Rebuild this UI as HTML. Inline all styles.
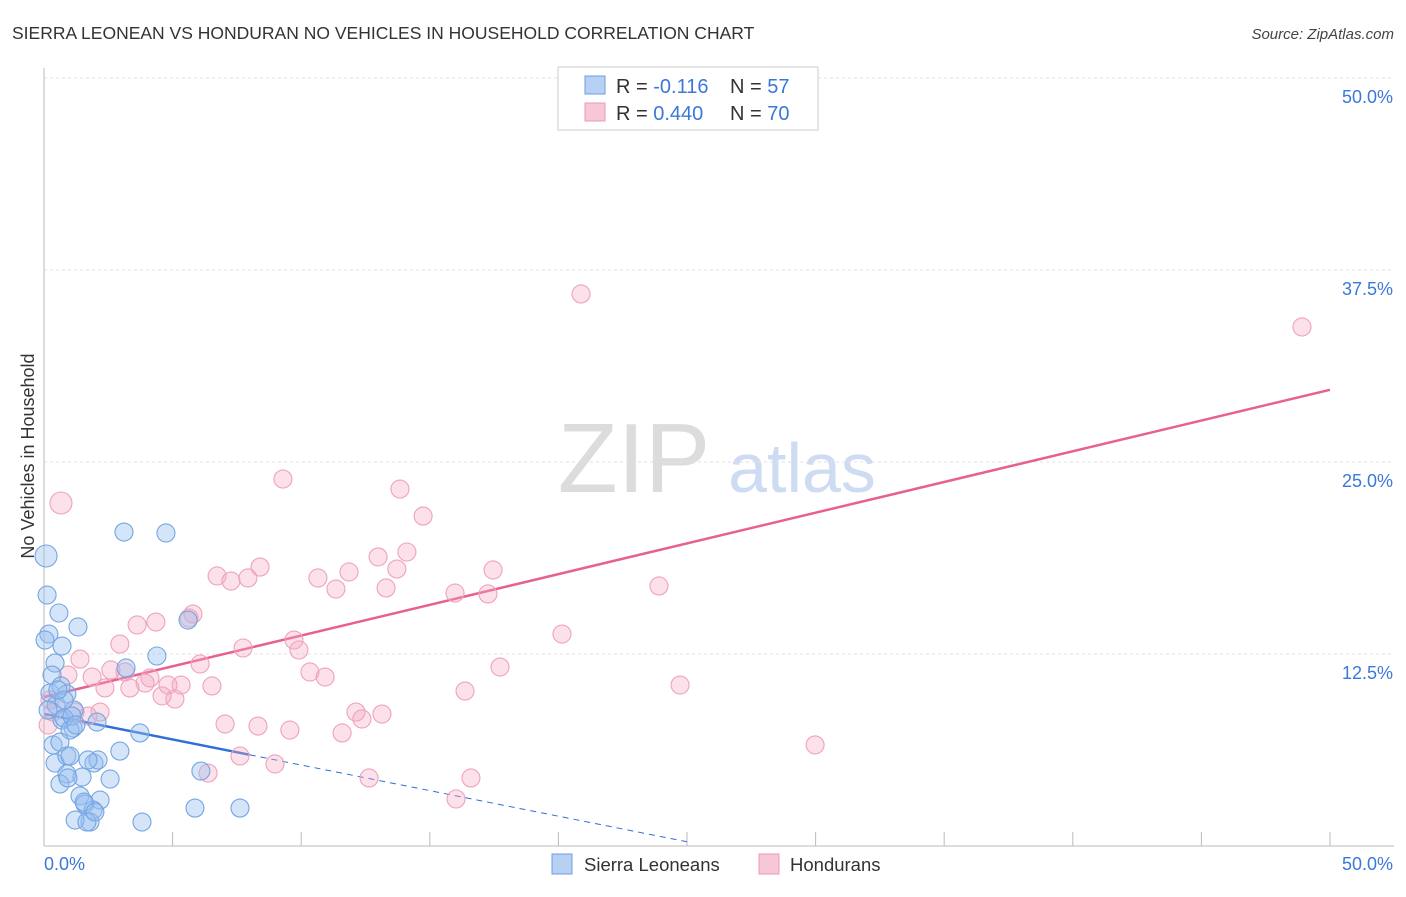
<!DOCTYPE html>
<html><head><meta charset="utf-8"><style>
body{margin:0;background:#fff;font-family:"Liberation Sans",sans-serif;}
svg text{font-family:"Liberation Sans",sans-serif;}
</style></head><body>
<svg id="chart" width="1406" height="892" viewBox="0 0 1406 892" xmlns="http://www.w3.org/2000/svg">
<text x="12" y="39" font-size="17.5" fill="#333">SIERRA LEONEAN VS HONDURAN NO VEHICLES IN HOUSEHOLD CORRELATION CHART</text>
<text x="1394" y="39" font-size="15" fill="#444" text-anchor="end" font-style="italic">Source: ZipAtlas.com</text>
<text transform="translate(34,456) rotate(-90)" font-size="18" fill="#333" text-anchor="middle">No Vehicles in Household</text>
<g>
<text x="634" y="492" font-size="98" fill="#dcdcdc" font-family="Liberation Serif" text-anchor="middle">ZIP</text>
<text x="802" y="492" font-size="70" fill="#cddcf2" text-anchor="middle">atlas</text>
</g>
<g id="grid"></g><g id="axes"></g><g id="lines"></g><g id="points"></g>
<g>
<rect x="558" y="67" width="260" height="63" fill="#fff" stroke="#ccc"/>
<rect x="585" y="76" width="20" height="18" fill="#b7d0f3" stroke="#6b9fe0"/>
<rect x="585" y="103" width="20" height="18" fill="#f8c7d6" stroke="#eb9ab4"/>
<text x="616" y="93" font-size="20" fill="#333">R = <tspan fill="#3b78d8">-0.116</tspan></text>
<text x="730" y="93" font-size="20" fill="#333">N = <tspan fill="#3b78d8">57</tspan></text>
<text x="616" y="120" font-size="20" fill="#333">R = <tspan fill="#3b78d8">0.440</tspan></text>
<text x="730" y="120" font-size="20" fill="#333">N = <tspan fill="#3b78d8">70</tspan></text>
</g>
<g>
<rect x="552" y="854" width="20" height="20" fill="#b7d0f3" stroke="#6b9fe0"/>
<text x="584" y="871" font-size="18.5" fill="#333">Sierra Leoneans</text>
<rect x="759" y="854" width="20" height="20" fill="#f8c7d6" stroke="#eb9ab4"/>
<text x="790" y="871" font-size="18.5" fill="#333">Hondurans</text>
</g>
</svg>
<script>
const blueX=[0.08,0.12,0.58,0.19,0.70,0.43,0.31,0.23,0.66,0.89,0.47,0.70,1.17,1.13,0.78,1.01,0.35,0.62,0.43,0.89,1.01,0.89,1.48,0.62,1.94,2.10,2.57,1.32,3.11,4.74,4.39,3.19,2.06,3.73,2.95,5.60,1.40,1.59,2.18,1.91,1.79,1.21,1.67,3.81,6.10,5.87,7.62,1.71,0.93,0.78,0.54,0.04,0.16,1.09,1.56,1.98,1.24];
const blueY=[18.88,16.34,15.17,13.80,13.02,11.91,11.13,9.96,10.42,9.90,9.18,8.20,8.85,7.68,8.33,7.55,6.58,6.77,5.40,5.86,5.86,4.69,4.49,4.04,5.40,5.60,4.36,14.26,20.44,20.38,12.37,11.59,8.07,7.36,6.18,14.71,3.26,2.73,2.99,2.34,1.56,1.69,1.56,1.56,4.88,2.47,2.47,5.60,4.43,9.51,10.16,13.41,8.85,8.46,2.86,2.21,7.88];
const pinkX=[0.66,9.29,13.84,14.74,20.88,48.91,14.11,12.99,13.72,11.86,10.65,8.40,6.73,7.27,7.93,11.35,13.30,15.98,17.26,17.46,23.91,5.79,5.64,4.35,3.62,2.95,7.74,9.72,9.91,20.14,1.40,6.07,3.15,2.60,0.93,1.87,10.34,10.93,17.73,4.12,5.33,4.82,3.93,6.53,2.37,3.34,4.59,5.09,16.37,24.73,0.23,0.35,1.21,2.18,1.71,12.13,12.36,13.14,7.04,8.32,9.56,11.59,7.62,8.98,6.38,12.64,16.60,16.02,29.98,0.16];
const pinkY=[22.33,23.89,23.24,21.48,35.94,33.79,19.14,18.82,18.03,17.84,17.45,18.16,17.58,17.25,17.45,16.73,16.80,16.47,16.41,17.97,16.93,15.10,14.84,14.58,14.39,13.15,12.89,13.41,12.76,13.80,12.17,11.85,11.33,11.46,11.13,11.00,11.33,11.00,11.65,10.94,10.48,10.48,10.61,10.42,10.29,10.29,9.77,9.57,10.09,10.48,9.51,8.72,8.72,8.72,8.46,8.72,8.27,8.59,7.94,7.81,7.55,7.36,5.86,5.34,4.75,4.43,4.43,3.06,6.58,7.88];
const yTicks=[12.5,25,37.5,50];
const yTickLabels=["12.5%","25.0%","37.5%","50.0%"];
const blueTrend=[8.6,-0.333]; // intercept, slope
const pinkTrend=[9.7,0.40];
const NS="http://www.w3.org/2000/svg";
const X=v=>44+v*25.72, Y=v=>846-v*15.36;
function mk(tag,attrs,parent){const e=document.createElementNS(NS,tag);for(const k in attrs)e.setAttribute(k,attrs[k]);document.getElementById(parent).appendChild(e);return e;}
yTicks.forEach((t,i)=>{
 const g=mk('line',{x1:44,x2:1394,y1:Y(t),y2:Y(t),stroke:'#e2e2e2','stroke-dasharray':'3,3'},'grid');
 
 
 const l=mk('text',{x:1393,y:Y(t)+25,'font-size':18,fill:'#3b78d8','text-anchor':'end'},'grid');
 l.textContent=yTickLabels[i];
 
 
});
const ax=mk('line',{x1:44,x2:44,y1:68,y2:846,stroke:'#bbb'},'axes');


const bx=mk('line',{x1:44,x2:1394,y1:846,y2:846,stroke:'#bbb'},'axes');


for(let i=0;i<=10;i++){const t=mk('line',{x1:X(i*5),x2:X(i*5),y1:832,y2:846,stroke:'#bbb'},'axes');
 
 }
[[0,"0.0%",'start',44],[50,"50.0%",'end',1393]].forEach(a=>{const t=mk('text',{x:a[3],y:870,'font-size':18,fill:'#3b78d8','text-anchor':a[2]},'axes');t.textContent=a[1];
 
 });
function pts(xs,ys,fill,stroke,name){xs.forEach((x,i)=>{const big=(i===0);
 const c=mk('circle',{cx:X(x),cy:Y(ys[i]),r:big?11:9,fill:fill,stroke:stroke,'stroke-width':1.1},'points');
 
 });}
pts(pinkX,pinkY,'rgba(246,170,195,0.35)','#eda3bb','pink-point');
pts(blueX,blueY,'rgba(150,190,240,0.4)','#75a5e2','blue-point');
const pl=mk('line',{x1:X(0),y1:Y(pinkTrend[0]),x2:X(50),y2:Y(pinkTrend[0]+50*pinkTrend[1]),stroke:'#e8608f','stroke-width':2.5},'lines');


const bl=mk('line',{x1:X(0),y1:Y(blueTrend[0]),x2:X(8),y2:Y(blueTrend[0]+8*blueTrend[1]),stroke:'#2f6fd6','stroke-width':2.5},'lines');


const bd=mk('line',{x1:X(8),y1:Y(blueTrend[0]+8*blueTrend[1]),x2:X(25),y2:Y(blueTrend[0]+25*blueTrend[1]),stroke:'#2f6fd6','stroke-width':1,'stroke-dasharray':'6,5'},'lines');


</script>
</body></html>
